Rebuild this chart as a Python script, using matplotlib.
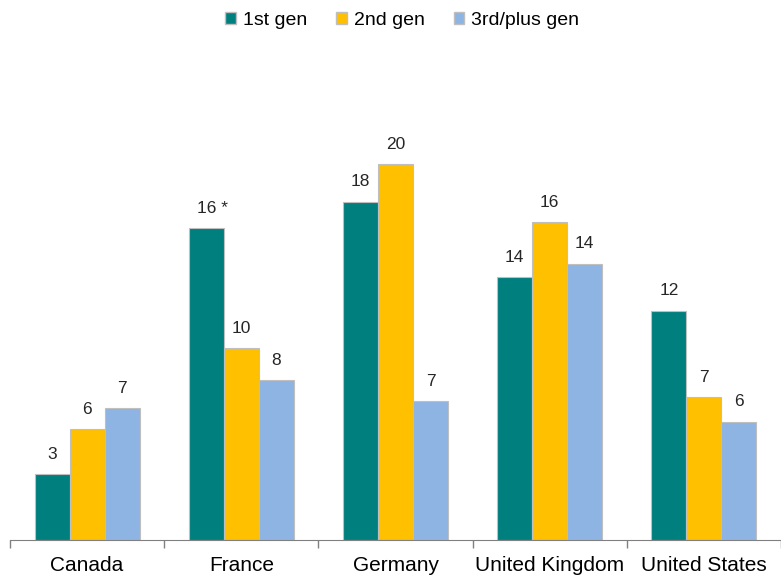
import numpy as np
import matplotlib.pyplot as plt
from matplotlib.patches import Patch

plt.rcParams['font.family'] = ['Liberation Sans', 'DejaVu Sans']

countries = ["Canada", "France", "Germany", "United Kingdom", "United States"]
series = ["1st gen", "2nd gen", "3rd/plus gen"]
first_gen = [3.5, 16.6, 18.0, 14.0, 12.2]
second_gen = [5.9, 10.2, 20.0, 16.9, 7.6]
third_gen = [7.0, 8.5, 7.4, 14.7, 6.3]
first_lbl = ["3", "16 *", "18", "14", "12"]
second_lbl = ["6", "10", "20", "16", "7"]
third_lbl = ["7", "8", "7", "14", "6"]
colors = ["#007F7F", "#FFC000", "#8EB4E3"]

fig = plt.figure(figsize=(7.81, 5.76), dpi=100)
ax = fig.add_axes([10 / 781, 36 / 576, 771 / 781, (24 * 18.8) / 576])

x = np.arange(len(countries))
w = 0.227
for i, (vals, lbls) in enumerate(zip([first_gen, second_gen, third_gen],
                                      [first_lbl, second_lbl, third_lbl])):
    pos = x + (i - 1) * w
    ax.bar(pos, vals, w, color=colors[i], edgecolor="#BFBFBF", linewidth=0.8)
    for p, v, t in zip(pos, vals, lbls):
        ax.text(p + (0.04 if "*" in t else 0), v + 0.65, t, ha="center", va="bottom",
                fontsize=12.5, color="#262626")

ax.set_xlim(-0.5, len(countries) - 0.5)
ax.set_ylim(0, 24)
ax.set_yticks([])
ax.set_xticks(np.arange(-0.5, len(countries)), minor=False)
ax.set_xticklabels([])
ax.set_xticks(x, minor=True)
ax.set_xticklabels(countries, minor=True, fontsize=15)
ax.tick_params(axis="x", which="major", length=6, color="#808080", width=1)
ax.tick_params(axis="x", which="minor", length=0, pad=11.5)
for s in ["top", "right", "left"]:
    ax.spines[s].set_visible(False)
ax.spines["bottom"].set_color("#808080")

handles = [Patch(facecolor=c, edgecolor="#BFBFBF", label=l) for c, l in zip(colors, series)]
fig.legend(handles=handles, loc="upper center", bbox_to_anchor=(0.515, 1.01), ncol=3,
           frameon=False, fontsize=14, handlelength=0.55, handleheight=0.55,
           handletextpad=0.35, columnspacing=1.5)

fig.savefig("out.png", dpi=100)
